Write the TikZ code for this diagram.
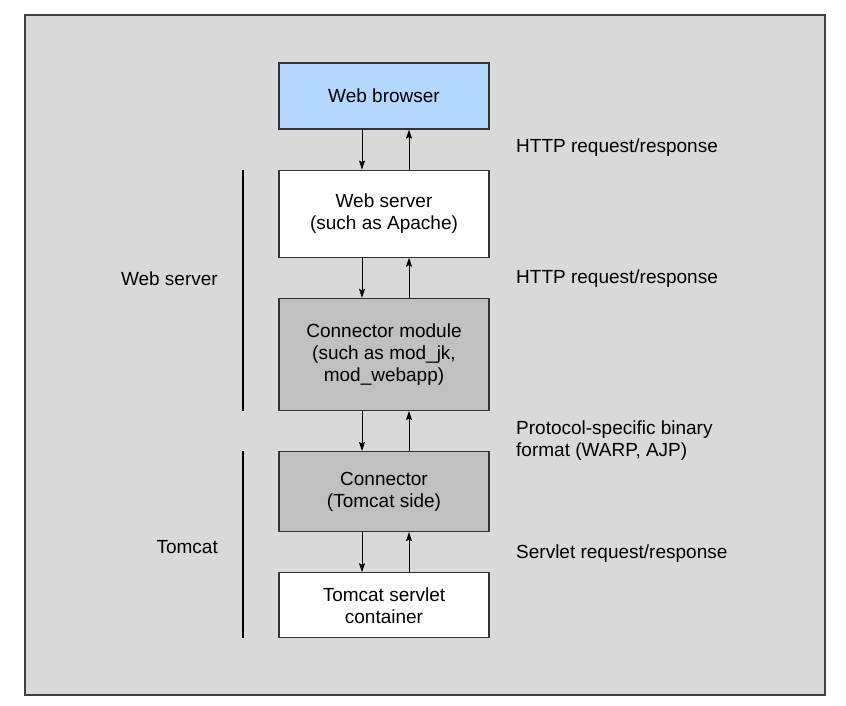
\documentclass[tikz,border=0pt]{standalone}
\usepackage{fontspec}
\setmainfont{Liberation Sans}
\usetikzlibrary{arrows.meta,positioning,calc}

\definecolor{pagegray}{RGB}{217,217,217}
\definecolor{browserblue}{RGB}{180,215,255}
\definecolor{boxgray}{RGB}{192,192,192}

\begin{document}
\begin{tikzpicture}
[x=1pt,y=1pt,
node distance=40pt,
font=\fontsize{19}{22}\selectfont,
layer/.style={shape=rectangle,draw=black!80,line width=1.2pt,minimum width=210pt,align=center,inner sep=0pt},
whitebox/.style={layer,fill=white},
graybox/.style={layer,fill=boxgray},
flow/.style={line width=0.9pt,-{Stealth[length=9pt,width=6pt,inset=1.5pt]}},
groupbar/.style={line width=2.4pt},
note/.style={anchor=west,align=left,inner sep=0pt}]

\useasboundingbox (0,0) rectangle (846,706);
\draw[line width=1.5pt,draw=black!75,fill=pagegray] (25,11) rectangle (825,691);

\node (browser) [layer,fill=browserblue,minimum height=66pt] at (384,610) {Web browser};
\node (server) [whitebox,minimum height=87pt,below=of browser] {Web server\\(such as Apache)};
\node (module) [graybox,minimum height=112pt,below=of server] {Connector module\\(such as mod\_jk,\\mod\_webapp)};
\node (conn) [graybox,minimum height=80pt,below=of module] {Connector\\(Tomcat side)};
\node (servlet) [whitebox,minimum height=65pt,below=of conn] {Tomcat servlet\\container};

% requests go down, responses come up
\foreach \a/\b in {browser/server,server/module,module/conn,conn/servlet} {
  \draw[flow] ([xshift=-22pt]\a.south) -- ([xshift=-22pt]\b.north);
  \draw[flow] ([xshift=25pt]\b.north) -- ([xshift=25pt]\a.south);
}

\node [note] at (516,558) {HTTP request/response};
\node [note] at (516,427) {HTTP request/response};
\node [note] at (516,265) {Protocol-specific binary\\format (WARP, AJP)};
\node [note] at (516,152) {Servlet request/response};

\coordinate (barx) at (243,0);
\draw[groupbar] (barx |- server.north) -- (barx |- module.south);
\draw[groupbar] (barx |- conn.north) -- (barx |- servlet.south);
\node [anchor=east,inner sep=0pt] at (218,427) {Web server};
\node [anchor=east,inner sep=0pt] at (218,159) {Tomcat};

\end{tikzpicture}
\end{document}
